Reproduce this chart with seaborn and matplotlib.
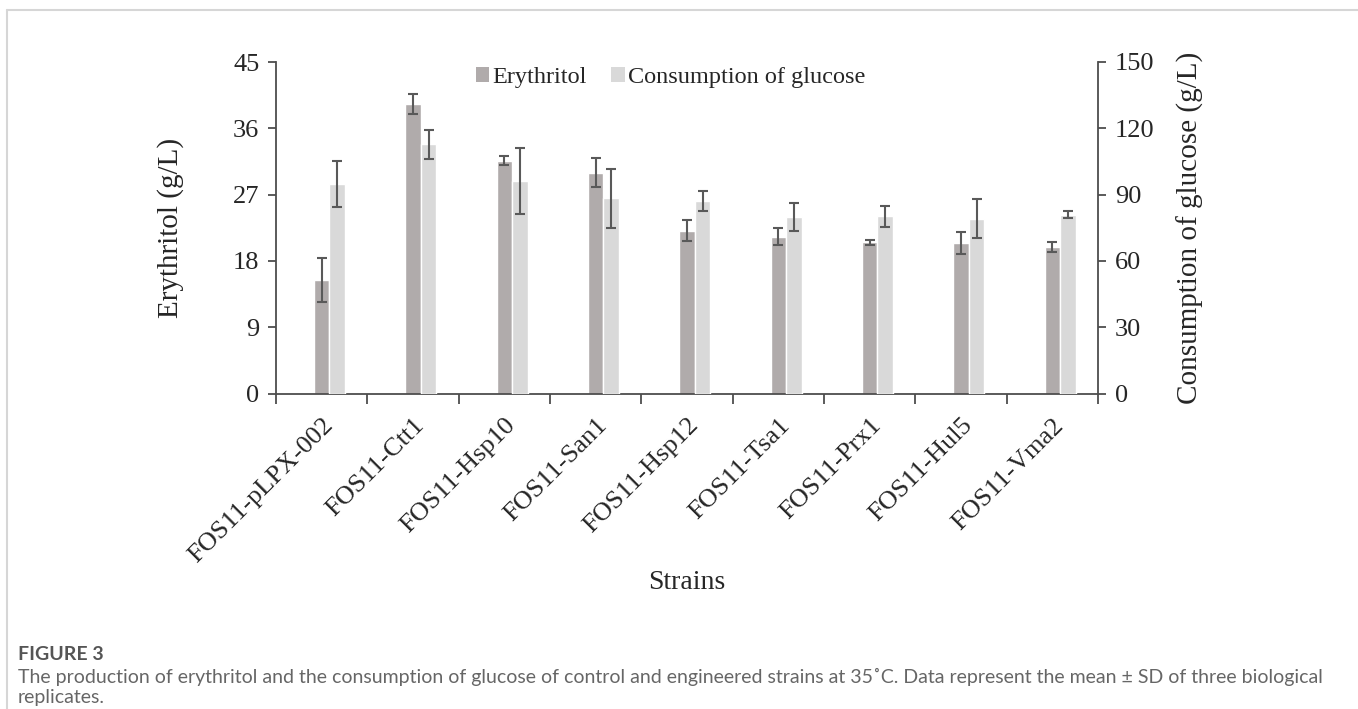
import numpy as np
import pandas as pd
import matplotlib
matplotlib.use("Agg")
import matplotlib.pyplot as plt
from matplotlib.lines import Line2D
from matplotlib.patches import Patch
import seaborn as sns

strains = [
    "FOS11-pLPX-002", "FOS11-Ctt1", "FOS11-Hsp10", "FOS11-San1",
    "FOS11-Hsp12", "FOS11-Tsa1", "FOS11-Prx1", "FOS11-Hul5", "FOS11-Vma2"
]
erythritol = [15.4, 39.3, 31.6, 30.0, 22.1, 21.3, 20.5, 20.4, 19.9]
erythritol_sd = [3.0, 1.3, 0.6, 2.0, 1.4, 1.1, 0.4, 1.5, 0.7]
glucose = [94.8, 112.8, 96.3, 88.3, 87.1, 79.9, 80.2, 79.0, 80.9]
glucose_sd = [10.3, 6.5, 15.0, 13.4, 4.4, 6.5, 4.8, 8.8, 1.7]

series = ["Erythritol", "Consumption of glucose"]
colors = {"_slot": "white", "Erythritol": "#b0abab", "Consumption of glucose": "#d9d9d9"}
# empty first slot so the erythritol bar sits on the category centre (as in Excel)
hue_slots = ["_slot"] + series

df_ery = pd.DataFrame({"strain": strains, "value": erythritol, "series": series[0]})
df_glu = pd.DataFrame({"strain": strains, "value": glucose, "series": series[1]})

sns.set_style("white")
plt.rcParams["font.family"] = ["Liberation Serif", "DejaVu Serif"]

fig = plt.figure(figsize=(13.58, 7.09), dpi=100)
ax = fig.add_axes([276 / 1358, 1 - 393.5 / 709, 822 / 1358, 331.5 / 709])
ax2 = ax.twinx()

bar_kw = dict(x="strain", y="value", hue="series", hue_order=hue_slots, order=strains,
              palette=colors, width=0.51, gap=0, dodge=True, errorbar=None,
              legend=False, saturation=1)
sns.barplot(data=df_ery, ax=ax, **bar_kw)
sns.barplot(data=df_glu, ax=ax2, **bar_kw)


def bar_centers(a):
    bars = [p for c in a.containers for p in c]
    return [p.get_x() + p.get_width() / 2 for p in bars]


err_kw = dict(fmt="none", ecolor="#595959", elinewidth=1.5, capsize=3.5, capthick=1.5)
ax.errorbar(bar_centers(ax), erythritol, yerr=erythritol_sd, **err_kw)
ax2.errorbar(bar_centers(ax2), glucose, yerr=glucose_sd, **err_kw)

spine_c = "#4d4d4d"
ax.set_ylim(0, 45)
ax.set_yticks(np.arange(0, 46, 9))
ax2.set_ylim(0, 150)
ax2.set_yticks(np.arange(0, 151, 30))
ax.set_xlim(-0.5, len(strains) - 0.5)

ax.set_xticks(np.arange(-0.5, len(strains), 1))
ax.set_xticklabels([])
ax.set_xticks(np.arange(len(strains)), minor=True)
ax.set_xticklabels(strains, minor=True, rotation=45, ha="right", va="top",
                   rotation_mode="anchor", fontsize=19)
ax.tick_params(axis="x", which="minor", length=0, pad=15)
ax.tick_params(axis="x", which="major", direction="out", length=7,
               width=1.3, color=spine_c, bottom=True)
ax.tick_params(axis="y", direction="out", length=6, width=1.3, color=spine_c,
               labelsize=19, left=True, pad=6)
ax2.tick_params(axis="y", direction="out", length=6, width=1.3, color=spine_c,
                labelsize=19, right=True, pad=6)

for s in ["top", "right"]:
    ax.spines[s].set_visible(False)
for s in ["top", "left", "bottom"]:
    ax2.spines[s].set_visible(False)
for s in ["left", "bottom"]:
    ax.spines[s].set_color(spine_c)
    ax.spines[s].set_linewidth(1.3)
ax2.spines["right"].set_color(spine_c)
ax2.spines["right"].set_linewidth(1.3)

ax.set_xlabel("Strains", fontsize=20, labelpad=2)
ax.set_ylabel("Erythritol (g/L)", fontsize=21, labelpad=35)
ax2.set_ylabel("Consumption of glucose (g/L)", fontsize=21, labelpad=16)

handles = [Patch(facecolor=colors[s], edgecolor="none") for s in series]
ax2.legend(handles, series, loc="upper center", bbox_to_anchor=(0.48, 1.05),
           ncol=2, frameon=False, fontsize=17.5, handlelength=0.55,
           handleheight=0.55, handletextpad=0.15, columnspacing=1.0)

# page frame lines and caption
fig.add_artist(Line2D([7 / 1358, 1], [1 - 10 / 709, 1 - 10 / 709],
                      color="#d6d6d6", lw=1.5))
fig.add_artist(Line2D([7 / 1358, 7 / 1358], [0, 1 - 10 / 709],
                      color="#d6d6d6", lw=1.5))

cap_font = ["Lato", "DejaVu Sans"]
fig.text(18 / 1358, 1 - 655 / 709, "FIGURE 3", fontsize=14, fontweight="bold",
         color="#555555", family=cap_font, va="center")
fig.text(18 / 1358, 1 - 677 / 709,
         "The production of erythritol and the consumption of glucose of control and "
         "engineered strains at 35\u02daC. Data represent the mean \u00b1 SD of three biological",
         fontsize=14, color="#666666", family=cap_font, va="center")
fig.text(18 / 1358, 1 - 698 / 709, "replicates.", fontsize=14, color="#666666",
         family=cap_font, va="center")

fig.savefig("out.png", dpi=100)
